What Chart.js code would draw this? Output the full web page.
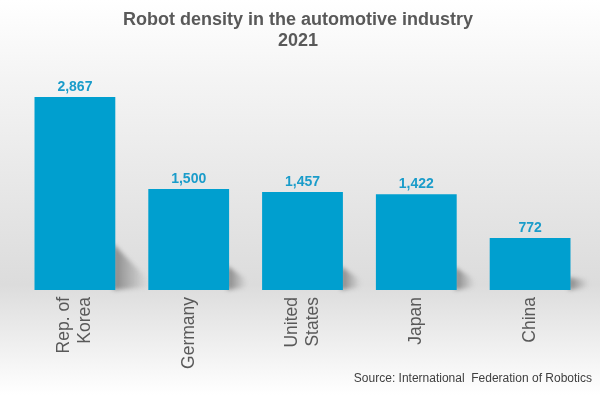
<!DOCTYPE html>
<html>
<head>
<meta charset="utf-8">
<script src="https://cdn.jsdelivr.net/npm/chart.js@4.4.1/dist/chart.umd.min.js"></script>
<style>
  html, body { margin: 0; padding: 0; }
  #wrap {
    width: 600px; height: 395px; position: relative;
    background: linear-gradient(to bottom, #ffffff 0%, #f4f4f4 20%, #e6e6e6 50%, #dcdcdc 72%, #f0f0f0 88%, #ffffff 100%);
  }
  canvas { display: block; }
</style>
</head>
<body>
<div id="wrap"><canvas id="c" width="600" height="395"></canvas></div>
<script>
const titleLines = ["Robot density in the automotive industry", "2021"];
const sourceText = "Source: International  Federation of Robotics";
const categories = [["Rep. of", "Korea"], ["Germany"], ["United", "States"], ["Japan"], ["China"]];
const densityValues = [2867, 1500, 1457, 1422, 772];

const fmt = v => v.toLocaleString("en-US");

const decor = {
  id: "decor",
  beforeDatasetsDraw(chart) {
    const ctx = chart.ctx;
    const meta = chart.getDatasetMeta(0);
    meta.data.forEach(bar => {
      const right = bar.x + bar.width / 2;
      const base = bar.base;
      const h = base - bar.y;
      const sh = Math.max(12, h * 0.24);
      const sw = Math.max(18, h * 0.17);
      const g = ctx.createLinearGradient(right, 0, right + sw, 0);
      g.addColorStop(0, "rgba(70,70,70,0.55)");
      g.addColorStop(0.6, "rgba(100,100,100,0.25)");
      g.addColorStop(1, "rgba(120,120,120,0.0)");
      ctx.save();
      ctx.filter = "blur(2px)";
      ctx.beginPath();
      ctx.moveTo(right - 2, base - sh);
      ctx.lineTo(right + sw, base - 10);
      ctx.lineTo(right + sw + 2, base - 3);
      ctx.lineTo(right - 2, base);
      ctx.closePath();
      ctx.fillStyle = g;
      ctx.fill();
      ctx.restore();
    });
  },
  afterDatasetsDraw(chart) {
    const ctx = chart.ctx;
    const meta = chart.getDatasetMeta(0);
    ctx.save();
    ctx.font = "bold 14px 'Liberation Sans', Arial, sans-serif";
    ctx.fillStyle = "#1a9cca";
    ctx.textAlign = "center";
    ctx.textBaseline = "bottom";
    meta.data.forEach((bar, i) => {
      ctx.fillText(fmt(densityValues[i]), bar.x, bar.y - 3);
    });
    ctx.restore();
  },
  afterDraw(chart) {
    const ctx = chart.ctx;
    const xs = chart.scales.x;
    ctx.save();
    ctx.font = "17.5px 'Liberation Sans', Arial, sans-serif";
    ctx.fillStyle = "#595959";
    ctx.textAlign = "right";
    ctx.textBaseline = "middle";
    const lh = 21.5;
    const top = chart.chartArea.bottom + 7;
    categories.forEach((lines, i) => {
      const px = xs.getPixelForTick(i);
      const n = lines.length;
      lines.forEach((ln, j) => {
        const x = px + (j - (n - 1) / 2) * lh;
        ctx.save();
        ctx.translate(x, top);
        ctx.rotate(-Math.PI / 2);
        ctx.fillText(ln, 0, 0);
        ctx.restore();
      });
    });
    ctx.font = "bold 18px 'Liberation Sans', Arial, sans-serif";
    ctx.fillStyle = "#595959";
    ctx.textAlign = "center";
    ctx.textBaseline = "middle";
    ctx.fillText(titleLines[0], 298, 20);
    ctx.fillText(titleLines[1], 298, 41);
    ctx.font = "12px 'Liberation Sans', Arial, sans-serif";
    ctx.fillStyle = "#404040";
    ctx.textAlign = "right";
    ctx.fillText(sourceText, 592, 379);
    ctx.restore();
  }
};

new Chart(document.getElementById("c"), {
  type: "bar",
  data: {
    labels: categories.map(l => l.join(" ")),
    datasets: [{
      data: densityValues,
      backgroundColor: "#009fcf",
      borderWidth: 0,
      categoryPercentage: 1.0,
      barPercentage: 0.71
    }]
  },
  plugins: [decor],
  options: {
    responsive: false,
    animation: false,
    layout: { padding: { left: 18, right: 13, top: 88, bottom: 0 } },
    plugins: { legend: { display: false }, tooltip: { enabled: false }, title: { display: false } },
    scales: {
      x: {
        grid: { display: false },
        border: { display: false },
        ticks: { display: false },
        afterFit(s) { s.height = 105; }
      },
      y: {
        display: false,
        min: 0, max: 3000
      }
    }
  }
});
</script>
</body>
</html>
